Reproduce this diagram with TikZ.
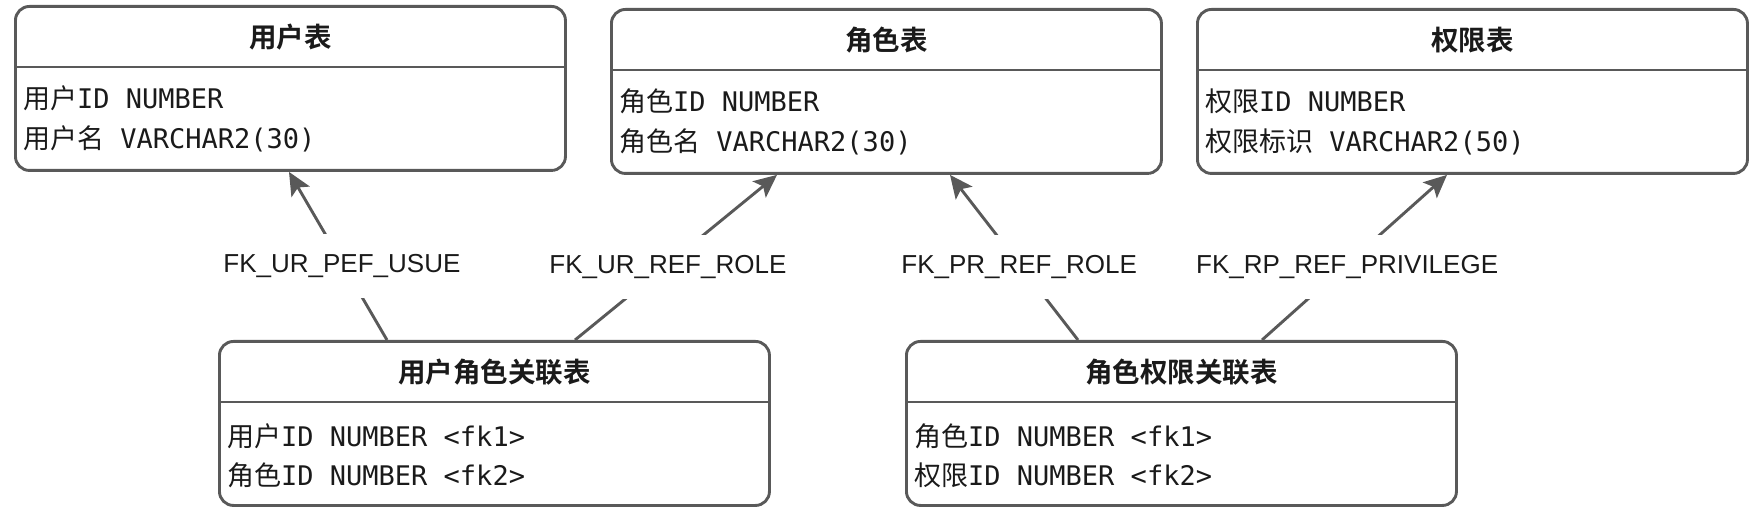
\documentclass[tikz,border=0pt]{standalone}
\usepackage{fontspec}
\setmainfont{Liberation Sans}
\newfontfamily\cjk{Noto Sans CJK SC}[BoldFont={Noto Sans CJK SC Bold}]
\newfontfamily\mono{DejaVu Sans Mono}
\usetikzlibrary{arrows.meta}
\definecolor{stroke}{HTML}{595959}
\definecolor{ink}{HTML}{1A1A1A}
\tikzset{
  tbl/.style={draw=stroke, line width=2.9pt, rounded corners=14pt, minimum width=550pt, minimum height=164pt, inner sep=0pt, anchor=north west},
  ttl/.style={font=\cjk\bfseries\fontsize{27.5}{32}\selectfont, text=ink, inner sep=0pt},
  row/.style={font=\fontsize{27}{32}\selectfont, text=ink, inner sep=0pt, anchor=west},
  div/.style={draw=stroke, line width=2.9pt},
  fk/.style={draw=stroke, line width=2.9pt, -{Stealth[length=23pt,width=21pt,inset=5pt]}},
  lbl/.style={fill=white, font=\fontsize{26}{30}\selectfont, text=ink, minimum height=64pt, inner xsep=2pt, yshift=-3pt}
}
\begin{document}
\begin{tikzpicture}[x=1pt,y=-1pt]
\useasboundingbox (0,0) rectangle (1762,510);
% tables
\node[tbl] (A) at (14,5) {};
\node[tbl] (B) at (610,8) {};
\node[tbl] (C) at (1196,8) {};
\node[tbl] (D) at (218,340) {};
\node[tbl] (E) at (905,340) {};
\foreach \n in {A,B,C,D,E}{
  \draw[div] ([yshift=-62pt]\n.north west) -- ([yshift=-62pt]\n.north east);
}
% titles
\node[ttl] (At) at ([yshift=-32pt]A.north) {用户表};
\node[ttl] (Bt) at ([yshift=-32pt]B.north) {角色表};
\node[ttl] (Ct) at ([yshift=-32pt]C.north) {权限表};
\node[ttl] (Dt) at ([yshift=-32pt]D.north) {用户角色关联表};
\node[ttl] (Et) at ([yshift=-32pt]E.north) {角色权限关联表};
% rows
\node[row] (A1) at ([xshift=9pt,yshift=-93pt]A.north west) {{\cjk 用户}{\mono ID NUMBER}};
\node[row] (A2) at ([xshift=9pt,yshift=-134pt]A.north west) {{\cjk 用户名}{\mono\ VARCHAR2(30)}};
\node[row] (B1) at ([xshift=9pt,yshift=-93pt]B.north west) {{\cjk 角色}{\mono ID NUMBER}};
\node[row] (B2) at ([xshift=9pt,yshift=-134pt]B.north west) {{\cjk 角色名}{\mono\ VARCHAR2(30)}};
\node[row] (C1) at ([xshift=9pt,yshift=-93pt]C.north west) {{\cjk 权限}{\mono ID NUMBER}};
\node[row] (C2) at ([xshift=9pt,yshift=-134pt]C.north west) {{\cjk 权限标识}{\mono\ VARCHAR2(50)}};
\node[row] (D1) at ([xshift=9pt,yshift=-96pt]D.north west) {{\cjk 用户}{\mono ID NUMBER <fk1>}};
\node[row] (D2) at ([xshift=9pt,yshift=-135pt]D.north west) {{\cjk 角色}{\mono ID NUMBER <fk2>}};
\node[row] (E1) at ([xshift=9pt,yshift=-96pt]E.north west) {{\cjk 角色}{\mono ID NUMBER <fk1>}};
\node[row] (E2) at ([xshift=9pt,yshift=-135pt]E.north west) {{\cjk 权限}{\mono ID NUMBER <fk2>}};
% foreign keys
\draw[fk] ([xshift=169pt]D.north west) -- node[lbl,pos=0.46] (L1) {FK\_UR\_PEF\_USUE} ([xshift=275pt]A.south west);
\draw[fk] ([xshift=357pt]D.north west) -- node[lbl,pos=0.46] (L2) {FK\_UR\_REF\_ROLE} ([xshift=167pt]B.south west);
\draw[fk] ([xshift=173pt]E.north west) -- node[lbl,pos=0.46] (L3) {FK\_PR\_REF\_ROLE} ([xshift=340pt]B.south west);
\draw[fk] ([xshift=357pt]E.north west) -- node[lbl,pos=0.46] (L4) {FK\_RP\_REF\_PRIVILEGE} ([xshift=251pt]C.south west);
\end{tikzpicture}
\end{document}
